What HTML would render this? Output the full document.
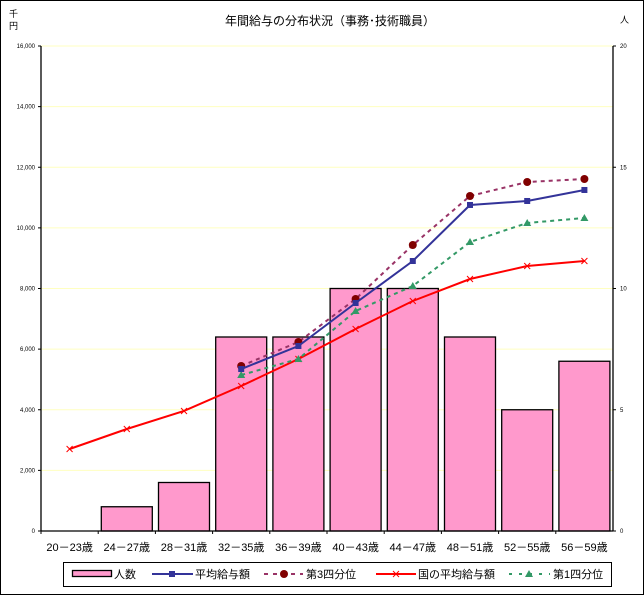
<!DOCTYPE html>
<html><head><meta charset="utf-8"><style>
body{margin:0;background:#fff;}
svg{display:block;font-family:"Liberation Sans","Noto Sans CJK JP",sans-serif;}
</style></head><body>
<svg id="c" width="644" height="595" viewBox="0 0 644 595">
<rect x="0.5" y="0.5" width="643" height="594" fill="#fff" stroke="#000"/>
<text x="330" y="25" font-size="12" text-anchor="middle">年間給与の分布状況（事務･技術職員）</text>
<text x="9" y="17" font-size="9">千</text>
<text x="9" y="29" font-size="9">円</text>
<text x="620" y="23" font-size="9">人</text>
<g id="plot"></g>
<g>
<rect x="63.5" y="562.5" width="548" height="24" fill="#fff" stroke="#000"/>
</g>
<g id="leg"></g>
</svg>
<script>
const categories=["20－23歳","24－27歳","28－31歳","32－35歳","36－39歳","40－43歳","44－47歳","48－51歳","52－55歳","56－59歳"];
const headcount=[0,1,2,8,8,10,10,8,5,7];
const avgSalary=[null,null,null,5344,6103,7522,8907,10755,10887,11250];
const q3Salary=[null,null,null,5443,6235,7654,9435,11052,11513,11612];
const nationalAvg=[2705,3365,3960,4784,5674,6664,7588,8313,8742,8907];
const q1Salary=[null,null,null,5146,5674,7258,8082,9534,10161,10326];
const leftTicks=[0,2000,4000,6000,8000,10000,12000,14000,16000];
const leftTickLabels=["0","2,000","4,000","6,000","8,000","10,000","12,000","14,000","16,000"];
const rightTicks=[0,5,10,15,20];

const NS="http://www.w3.org/2000/svg";
const X0=41,X1=613,Y0=531,Y1=46;
const cw=(X1-X0)/categories.length;
const xc=i=>X0+cw*(i+0.5);
const yL=v=>Y0-(v/16000)*(Y0-Y1);
const yR=v=>Y0-(v/20)*(Y0-Y1);
const plot=document.getElementById('plot');
function mk(tag,attrs,parent){const e=document.createElementNS(NS,tag);for(const k in attrs)e.setAttribute(k,attrs[k]);(parent||plot).appendChild(e);return e;}

leftTicks.forEach((t,i)=>{
  const y=yL(t);
  if(t>0){const g=mk('line',{x1:X0,x2:X1,y1:y,y2:y,stroke:'#ffffc0','stroke-width':1});
  
  }
  mk('line',{x1:X0-3,x2:X0,y1:y,y2:y,stroke:'#000'});
  const tx=mk('text',{x:X0-6,y:y+2,'font-size':6,'text-anchor':'end'});
  tx.textContent=leftTickLabels[i];
  
  
});
rightTicks.forEach(t=>{
  const y=yR(t);
  mk('line',{x1:X1,x2:X1+3,y1:y,y2:y,stroke:'#000'});
  const tx=mk('text',{x:X1+7,y:y+2,'font-size':6});
  tx.textContent=String(t);
  
  
});
// bars
headcount.forEach((v,i)=>{
  if(v<=0)return;
  const y=yR(v);
  const r=mk('rect',{x:xc(i)-25.5,y:y,width:51,height:Y0-y,fill:'#ff99cc',stroke:'#000','stroke-width':1.3});
  
  
});
// axes
mk('line',{x1:X0,x2:X0,y1:Y1,y2:Y0,stroke:'#000','stroke-width':1.3});
mk('line',{x1:X1,x2:X1,y1:Y1,y2:Y0,stroke:'#000','stroke-width':1.3});
mk('line',{x1:X0,x2:X1,y1:Y0,y2:Y0,stroke:'#000','stroke-width':1.3});
categories.forEach((c,i)=>{
  mk('line',{x1:X0+cw*i,x2:X0+cw*i,y1:Y0,y2:Y0+3,stroke:'#000'});
  const t=mk('text',{x:xc(i),y:551,'font-size':11,'text-anchor':'middle'});
  t.textContent=c;
  
  
});
function marker(type,x,y,color,g){
  if(type==='sq')mk('rect',{x:x-3,y:y-3,width:6,height:6,fill:color},g);
  else if(type==='dia')mk('circle',{cx:x,cy:y,r:4,fill:color},g);
  else if(type==='tri')mk('polygon',{points:`${x},${y-4} ${x+4},${y+3} ${x-4},${y+3}`,fill:color},g);
  else if(type==='x'){mk('path',{d:`M${x-3},${y-3}L${x+3},${y+3}M${x+3},${y-3}L${x-3},${y+3}`,stroke:color,'stroke-width':1},g);}
}
function series(data,color,dash,type,name,width){
  const g=mk('g',{});
  
  
  const pts=[];data.forEach((v,i)=>{if(v!=null)pts.push([xc(i),yL(v)]);});
  mk('polyline',{points:pts.map(p=>p.join(',')).join(' '),fill:'none',stroke:color,'stroke-width':width,'stroke-dasharray':dash||'none'},g);
  pts.forEach(p=>marker(type,p[0],p[1],color==='#993366'?'#800000':color,g));
}
series(nationalAvg,'#ff0000',null,'x','national-average-line',2);
series(q1Salary,'#339966','4,4','tri','first-quartile-line',2);
series(q3Salary,'#993366','4,4','dia','third-quartile-line',2);
series(avgSalary,'#333399',null,'sq','average-salary-line',2);

// legend
const leg=document.getElementById('leg');
function lt(x,text,name){const t=mk('text',{x:x,y:578,'font-size':11},leg);t.textContent=text;}
mk('rect',{x:72.5,y:570.5,width:39,height:6,fill:'#ff99cc',stroke:'#000','stroke-width':1.3},leg);
lt(114,'人数','legend-headcount');
mk('line',{x1:152,x2:193,y1:574,y2:574,stroke:'#333399','stroke-width':2},leg);marker('sq',172,574,'#333399',leg);
lt(195,'平均給与額','legend-average-salary');
mk('line',{x1:264,x2:303,y1:574,y2:574,stroke:'#993366','stroke-width':2,'stroke-dasharray':'4,5'},leg);marker('dia',284,574,'#800000',leg);
lt(306,'第3四分位','legend-third-quartile');
mk('line',{x1:376,x2:416,y1:574,y2:574,stroke:'#ff0000','stroke-width':2},leg);marker('x',396,574,'#ff0000',leg);
lt(418,'国の平均給与額','legend-national-average');
mk('line',{x1:509,x2:550,y1:574,y2:574,stroke:'#339966','stroke-width':2,'stroke-dasharray':'3,7'},leg);marker('tri',529,574,'#339966',leg);
lt(553,'第1四分位','legend-first-quartile');
</script>
</body></html>
